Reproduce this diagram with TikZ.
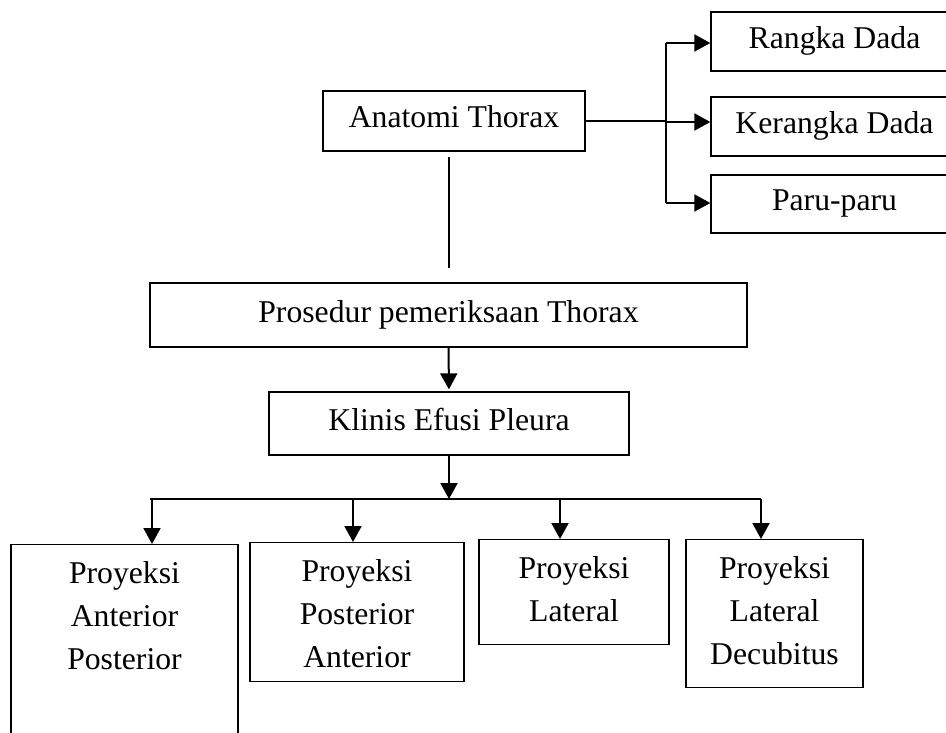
\documentclass[tikz,border=0pt]{standalone}
\usepackage{fontspec}
\setmainfont{Liberation Serif}
\usetikzlibrary{arrows.meta}

\tikzset{
  box/.style={draw, line width=1.3pt, inner sep=0pt, font=\fontsize{31.7}{43}\selectfont, text height=20pt, text depth=6pt},
  projbox/.style={draw, line width=1.3pt, inner sep=0pt, anchor=north, align=center, font=\fontsize{31.7}{43}\selectfont, text height=39pt},
  link/.style={line width=2pt},
  arr/.style={line width=2pt, -{Triangle[length=16pt,width=17pt]}}
}

\begin{document}
\begin{tikzpicture}[x=1pt,y=-1pt]
\useasboundingbox (0,0) rectangle (946,733);
\clip (0,0) rectangle (946,733);
\node[box, minimum width=262, minimum height=60] (anat) at (454,121) {Anatomi Thorax};
\node[box, minimum width=247, minimum height=59] (rangka) at (834.5,41.5) {Rangka Dada};
\node[box, minimum width=247, minimum height=59] (kerangka) at (834.5,126.5) {Kerangka Dada};
\node[box, minimum width=247, minimum height=58] (paru) at (834.5,204) {Paru-paru};
\node[box, minimum width=597, minimum height=64] (pros) at (448.5,315) {Prosedur pemeriksaan Thorax};
\node[box, minimum width=360, minimum height=63] (klinis) at (449,423.5) {Klinis Efusi Pleura};
\node[projbox, text width=227, text depth=177pt] (ap) at (124.5,544) {Proyeksi\\Anterior\\Posterior};
\node[projbox, text width=214, text depth=100pt] (pa) at (357,542) {Proyeksi\\Posterior\\Anterior};
\node[projbox, text width=190, text depth=66pt] (lat) at (574,539) {Proyeksi\\Lateral};
\node[projbox, text width=177, text depth=109pt] (dec) at (774.5,539) {Proyeksi\\Lateral\\Decubitus};

\coordinate (busT) at (666,43);
\coordinate (busM) at (666,122);
\coordinate (busB) at (666,203);
\draw[link] (busT) -- (busB);
\draw[link] (anat.east) -- (anat.east -| busT);
\draw[arr] (busT) -- (busT -| rangka.west);
\draw[arr] (busM) -- (busM -| kerangka.west);
\draw[arr] (busB) -- (busB -| paru.west);

\draw[link, shorten <=5pt, shorten >=14pt] (anat.south -| pros.north) -- (pros.north);
\draw[arr, shorten >=2pt] (pros.south) -- (klinis.north);

\coordinate (busL) at (150,499);
\coordinate (busR) at (761,499);
\draw[link] (busL) -- (busR);
\draw[arr] (klinis.south) -- (klinis.south |- busL);
\coordinate (toAP) at (152,499);
\coordinate (toPA) at (353,499);
\coordinate (toLat) at (560,499);
\coordinate (toDec) at (761,499);
\draw[arr] (toAP) -- (toAP |- ap.north);
\draw[arr] (toPA) -- (toPA |- pa.north);
\draw[arr] (toLat) -- (toLat |- lat.north);
\draw[arr] (toDec) -- (toDec |- dec.north);
\end{tikzpicture}
\end{document}
